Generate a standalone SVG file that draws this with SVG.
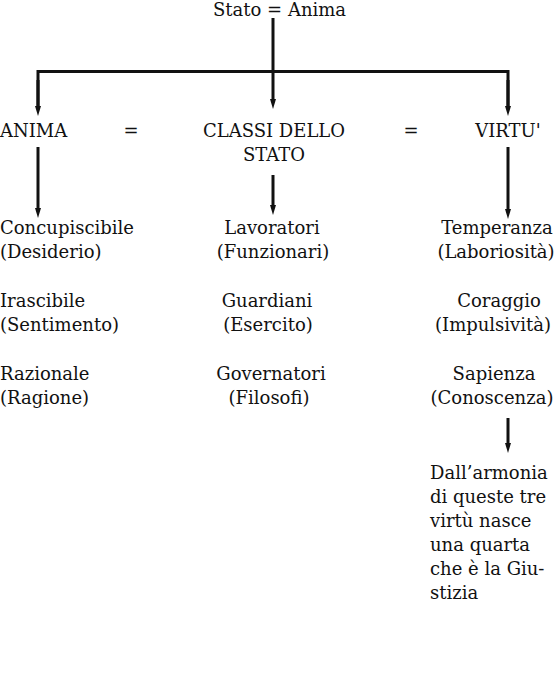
<svg xmlns="http://www.w3.org/2000/svg" width="559" height="674" viewBox="0 0 559 674">
<defs>
<style>
text{font-family:"DejaVu Serif","Liberation Serif",serif;font-size:18px;fill:#111}
.m{text-anchor:middle}
.c{fill:none;stroke:#111;stroke-width:3}
</style>
<marker id="ah" viewBox="0 0 10 6" refX="1" refY="3" markerWidth="10" markerHeight="6" markerUnits="userSpaceOnUse" orient="auto">
<path d="M0,0 L10,3 L0,6 z" fill="#111"/>
</marker>
</defs>
<rect width="559" height="674" fill="#fff"/>
<g id="connectors">
<path class="c" d="M273,18 V100" marker-end="url(#ah)"/>
<path class="c" d="M38,107 V71.5 H508 V107" stroke-linejoin="miter"/>
<path class="c" d="M38,80 V107" marker-end="url(#ah)"/>
<path class="c" d="M508,80 V107" marker-end="url(#ah)"/>
<path class="c" d="M38,147 V209" marker-end="url(#ah)"/>
<path class="c" d="M273,175 V206" marker-end="url(#ah)"/>
<path class="c" d="M508,147 V210" marker-end="url(#ah)"/>
<path class="c" d="M508,418 V444" marker-end="url(#ah)"/>
</g>
<g id="top"><text x="213" y="16">Stato = Anima</text></g>
<g id="anima"><text x="0" y="137">ANIMA</text></g>
<g id="eq1"><text class="m" x="131" y="137">=</text></g>
<g id="classi"><text class="m" x="274" y="137">CLASSI DELLO</text><text class="m" x="274" y="161">STATO</text></g>
<g id="eq2"><text class="m" x="411" y="137">=</text></g>
<g id="virtu"><text class="m" x="508" y="137">VIRTU'</text></g>
<g id="anima-list">
<text x="0" y="234">Concupiscibile</text><text x="0" y="258">(Desiderio)</text>
<text x="0" y="307">Irascibile</text><text x="0" y="331">(Sentimento)</text>
<text x="0" y="380">Razionale</text><text x="0" y="404">(Ragione)</text>
</g>
<g id="classi-list">
<text class="m" x="272" y="234">Lavoratori</text><text class="m" x="273" y="258">(Funzionari)</text>
<text class="m" x="267" y="307">Guardiani</text><text class="m" x="268" y="331">(Esercito)</text>
<text class="m" x="271" y="380">Governatori</text><text class="m" x="269" y="404">(Filosofi)</text>
</g>
<g id="virtu-list">
<text class="m" x="497" y="234">Temperanza</text><text class="m" x="496" y="258">(Laboriosità)</text>
<text class="m" x="499" y="307">Coraggio</text><text class="m" x="493" y="331">(Impulsività)</text>
<text class="m" x="494" y="380">Sapienza</text><text class="m" x="492" y="404">(Conoscenza)</text>
</g>
<g id="giustizia">
<text x="430" y="479">Dall’armonia</text>
<text x="430" y="503">di queste tre</text>
<text x="430" y="527">virtù nasce</text>
<text x="430" y="551">una quarta</text>
<text x="430" y="575">che è la Giu-</text>
<text x="430" y="599">stizia</text>
</g>
</svg>
